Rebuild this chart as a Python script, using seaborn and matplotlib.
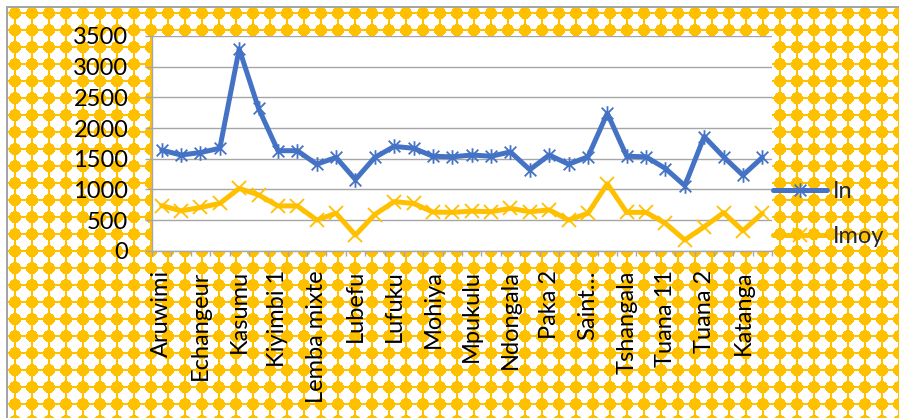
import numpy as np
import pandas as pd
import matplotlib
matplotlib.use("Agg")
import matplotlib.pyplot as plt
from matplotlib.path import Path
import seaborn as sns

# Sites along the x axis (only every second name fits, the others are hidden)
shown_labels = ["Aruwimi", "Echangeur", "Kasumu", "Kiyimbi 1", "Lemba mixte",
                "Lubefu", "Lufuku", "Mohiya", "Mpukulu", "Ndongala", "Paka 2",
                "Saint\u2026", "Tshangala", "Tuana 11", "Tuana 2", "Katanga"]

in_values = [1640, 1560, 1600, 1670, 3290, 2320, 1630, 1630, 1410, 1520, 1160,
             1520, 1700, 1670, 1540, 1530, 1560, 1540, 1610, 1320, 1560, 1410,
             1530, 2240, 1540, 1530, 1340, 1060, 1860, 1530, 1230, 1520]

imoy_values = [735, 650, 705, 770, 1015, 910, 730, 730, 500, 610, 255,
               590, 800, 770, 630, 625, 645, 635, 690, 635, 665, 500,
               610, 1090, 625, 625, 445, 175, 390, 620, 325, 610]

y_ticks = [0, 500, 1000, 1500, 2000, 2500, 3000, 3500]

BLUE = "#4472C4"
GOLD = "#FFC000"
GRID = "#A6A6A6"

sns.set_theme(style="white")
plt.rcParams["font.family"] = ["Lato", "DejaVu Sans"]

W, H = 899, 418
fig = plt.figure(figsize=(W / 100, H / 100), dpi=100, facecolor="white")

# Dotted gold fill of the chart area, built pixel by pixel
yy, xx = np.mgrid[0:H, 0:W] + 0.5
period = 17.0
dx = ((xx - 15.0 + period / 2) % period) - period / 2
dy = ((yy - 13.3 + period / 2) % period) - period / 2
gold = (dx ** 2 + dy ** 2 <= 36) | (np.abs(dx) <= 1.0) | (np.abs(dy) <= 1.0)
inside = (xx >= 8) & (yy >= 8)
img = np.ones((H, W, 3))
gold_rgb = np.array([1.0, 0xC0 / 255, 0.0])
img[gold & inside] = gold_rgb
border = np.array([0.65, 0.65, 0.65])
img[6:, 6:8] = border   # left frame line
img[6:8, 6:] = border   # top frame line
fig.figimage(img, xo=0, yo=0, origin="upper", zorder=0)

left, right, top, bottom = 152, 772, 36, 250.7
ax = fig.add_axes([left / W, (H - bottom) / H, (right - left) / W, (bottom - top) / H])
ax.set_zorder(2)
ax.set_facecolor("white")

df = pd.DataFrame({"pos": np.arange(len(in_values)), "In": in_values, "Imoy": imoy_values})

star = Path([(-1, -1), (1, 1), (-1, 1), (1, -1), (0, -1.25), (0, 1.25)],
            [Path.MOVETO, Path.LINETO, Path.MOVETO, Path.LINETO, Path.MOVETO, Path.LINETO])

sns.lineplot(data=df, x="pos", y="In", ax=ax, color=BLUE, linewidth=3.6,
             marker=star, markersize=10.5, markeredgewidth=1.3,
             markeredgecolor=BLUE, markerfacecolor="none", label="In")
sns.lineplot(data=df, x="pos", y="Imoy", ax=ax, color=GOLD, linewidth=3.6,
             marker="x", markersize=10.5, markeredgewidth=1.3,
             markeredgecolor=GOLD, label="Imoy")

handles, labels = ax.get_legend_handles_labels()
if ax.get_legend() is not None:
    ax.get_legend().remove()

ax.set_xlim(-0.5, len(in_values) - 0.5)
ax.set_ylim(0, 3500)
ax.set_yticks(y_ticks)
ax.set_yticklabels([str(v) for v in y_ticks])
ax.set_xticks(np.arange(0, len(in_values), 2))
ax.set_xticklabels(shown_labels, rotation=90, va="top", ha="center")
ax.set_xticks(np.arange(-0.5, len(in_values), 1), minor=True)
ax.set_xlabel("")
ax.set_ylabel("")

ax.yaxis.grid(True, color=GRID, linewidth=1.0)
ax.xaxis.grid(False)
ax.set_axisbelow(True)
for side in ("top", "right"):
    ax.spines[side].set_visible(False)
for side in ("left", "bottom"):
    ax.spines[side].set_color(GRID)
    ax.spines[side].set_linewidth(1.0)

ax.tick_params(axis="y", which="major", length=5, width=1, color=GRID,
               labelsize=17, pad=12, labelcolor="black", left=True)
ax.tick_params(axis="x", which="major", length=0, labelsize=17, pad=14,
               labelcolor="black")
ax.tick_params(axis="x", which="minor", length=3.5, width=1, color=GRID,
               bottom=True)

leg = fig.legend(handles, labels, loc="center left", bbox_to_anchor=(773 / W, (H - 214) / H),
                 frameon=False, fontsize=17, handlelength=2.3, handletextpad=0.25,
                 labelspacing=1.0, borderpad=0, borderaxespad=0)
leg.set_zorder(3)

fig.savefig("out.png", dpi=100, facecolor="white")
